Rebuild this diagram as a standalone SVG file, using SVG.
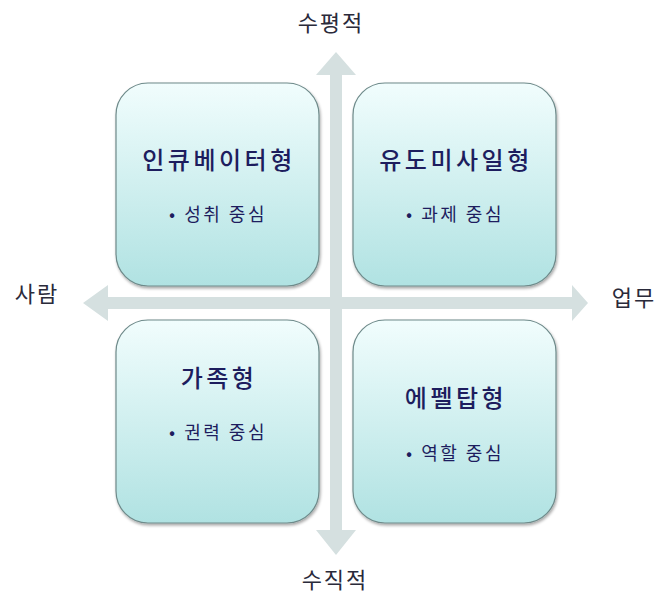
<svg xmlns="http://www.w3.org/2000/svg" width="659" height="595" viewBox="0 0 659 595">
<defs>
<linearGradient id="boxGrad" x1="0" y1="0" x2="0" y2="1">
<stop offset="0" stop-color="#f1fdfd"/>
<stop offset="1" stop-color="#b0e2e2"/>
</linearGradient>
<filter id="shadow" x="-10%" y="-10%" width="125%" height="125%">
<feGaussianBlur in="SourceAlpha" stdDeviation="1.5"/>
<feOffset dx="1" dy="2" result="b"/>
<feComponentTransfer><feFuncA type="linear" slope="0.35"/></feComponentTransfer>
<feMerge><feMergeNode/><feMergeNode in="SourceGraphic"/></feMerge>
</filter>
<style>
.box{fill:url(#boxGrad);stroke:#6e8a8a;stroke-width:1.2;filter:url(#shadow)}
.arrow{fill:#d5e0e0}
.title{font-family:"Noto Sans CJK KR","Noto Sans",sans-serif;font-size:24px;font-weight:500;fill:#1d1d5e;text-anchor:middle;letter-spacing:3.5px}
.sub{font-family:"Noto Sans CJK KR","Noto Sans",sans-serif;font-size:18px;fill:#1d1d5e;text-anchor:middle;letter-spacing:2.5px}
.axis{font-family:"Noto Sans CJK KR","Noto Sans",sans-serif;font-size:22px;fill:#2a2a3a;text-anchor:middle;letter-spacing:2px}
</style>
</defs>
<rect width="659" height="595" fill="#ffffff"/>
<g id="connectors">
<polygon class="arrow" points="83,303 108,285 108,297 572,297 572,285 588,303 572,321 572,309 108,309 108,321"/>
<polygon class="arrow" points="336,52 356,75 342,75 342,530 356,530 336,555 316,530 330,530 330,75 316,75"/>
</g>
<g id="box-incubator">
<rect class="box" x="116" y="83" width="203" height="203" rx="32"/>
<text class="title" x="219" y="169">인큐베이터형</text>
<text class="sub" x="218" y="221">• 성취 중심</text>
</g>
<g id="box-missile">
<rect class="box" x="353" y="83" width="203" height="203" rx="32"/>
<text class="title" x="456" y="169">유도미사일형</text>
<text class="sub" x="455" y="221">• 과제 중심</text>
</g>
<g id="box-family">
<rect class="box" x="116" y="320" width="203" height="203" rx="32"/>
<text class="title" x="219" y="387">가족형</text>
<text class="sub" x="218" y="439">• 권력 중심</text>
</g>
<g id="box-eiffel">
<rect class="box" x="353" y="320" width="203" height="203" rx="32"/>
<text class="title" x="456" y="407">에펠탑형</text>
<text class="sub" x="455" y="460">• 역할 중심</text>
</g>
<g id="axis-labels">
<text class="axis" x="331" y="31">수평적</text>
<text class="axis" x="37" y="302">사람</text>
<text class="axis" x="634" y="306">업무</text>
<text class="axis" x="335" y="588">수직적</text>
</g>
</svg>
